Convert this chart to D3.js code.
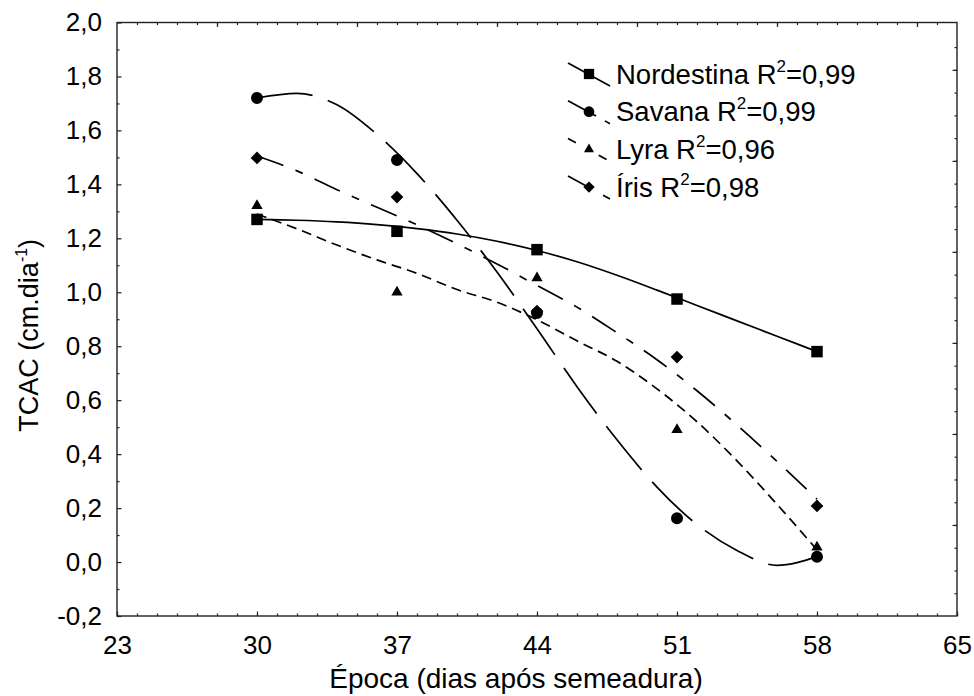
<!DOCTYPE html>
<html>
<head>
<meta charset="utf-8">
<script src="https://cdn.jsdelivr.net/npm/d3@7"></script>
<style>
  body { margin: 0; background: #fff; }
  svg { display: block; font-family: "Liberation Sans", Arial, sans-serif; }
</style>
</head>
<body>
<div id="chart"></div>
<script>
const width = 974;
const height = 696;
const margin = { top: 22.5, right: 17, bottom: 80, left: 117 };

// observed points (days after sowing, TCAC)
const days = [30, 37, 44, 51, 58];
const nordestina = [1.27, 1.226, 1.158, 0.975, 0.78];
const savana = [1.72, 1.49, 0.923, 0.162, 0.02];
const lyra = [1.321, 1.0, 1.053, 0.49, 0.055];
const iris = [1.498, 1.353, 0.93, 0.76, 0.208];

// fitted curves at regular days
const fitDays = [30, 32, 34, 36, 38, 40, 42, 44, 46, 48, 50, 52, 54, 56, 58];
const nordestinaFit = [1.27, 1.267, 1.261, 1.251, 1.236, 1.216, 1.189, 1.155, 1.113, 1.063, 1.008, 0.951, 0.894, 0.837, 0.78];
const savanaFit = [1.72, 1.737, 1.695, 1.585, 1.44, 1.267, 1.075, 0.865, 0.65, 0.453, 0.278, 0.139, 0.043, -0.012, 0.02];
const lyraFit = [1.29, 1.235, 1.175, 1.12, 1.07, 1.01, 0.963, 0.898, 0.82, 0.744, 0.642, 0.52, 0.375, 0.214, 0.045];
const irisFit = [1.505, 1.45, 1.38, 1.315, 1.25, 1.18, 1.105, 1.025, 0.945, 0.85, 0.75, 0.635, 0.508, 0.373, 0.233];

const seriesNames = ["Nordestina", "Savana", "Lyra", "Íris"];
const r2Values = ["0,99", "0,99", "0,96", "0,98"];

const xTicks = [23, 30, 37, 44, 51, 58, 65];
const yTicks = [-0.2, 0, 0.2, 0.4, 0.6, 0.8, 1.0, 1.2, 1.4, 1.6, 1.8, 2.0];

// line and marker styles per series
const styles = [
  { symbol: d3.symbolSquare, size: 132, rotate: 0, dash: null, legendDash: null },
  { symbol: d3.symbolCircle, size: 113, rotate: 0, dash: "56,16", legendDash: "32,10,8" },
  { symbol: d3.symbolTriangle, size: 55, rotate: 0, dash: "10,6", legendDash: "9,26,9" },
  { symbol: d3.symbolSquare, size: 81, rotate: 45, dash: "28,13,8,13", legendDash: "26,14,8" }
];

const series = seriesNames.map((name, i) => ({
  name,
  r2: r2Values[i],
  points: days.map((d, j) => ({ x: d, y: [nordestina, savana, lyra, iris][i][j] })),
  fit: fitDays.map((d, j) => ({ x: d, y: [nordestinaFit, savanaFit, lyraFit, irisFit][i][j] })),
  style: styles[i]
}));

const svg = d3.select("#chart")
  .append("svg")
  .attr("width", width)
  .attr("height", height);

// scales
const xScale = d3.scaleLinear()
  .domain([23, 65])
  .range([margin.left, width - margin.right]);

const yScale = d3.scaleLinear()
  .domain([-0.2, 2.0])
  .range([height - margin.bottom, margin.top]);

// the right frame carries its own tick spacing in the original
const rightScale = d3.scaleLinear()
  .domain([0, 6.52])
  .range([height - margin.bottom, margin.top]);

const fmt = v => v.toFixed(1).replace(".", ",");

// clip for curves
svg.append("clipPath")
  .attr("id", "plot-clip")
  .append("rect")
  .attr("x", margin.left)
  .attr("y", margin.top)
  .attr("width", width - margin.left - margin.right)
  .attr("height", height - margin.top - margin.bottom);

const axesLayer = svg.append("g");
const curvesLayer = svg.append("g").attr("clip-path", "url(#plot-clip)");
const pointsLayer = svg.append("g");
const legendLayer = svg.append("g");

// bottom axis: major + minor ticks
axesLayer.append("g")
  .attr("transform", `translate(0, ${height - margin.bottom})`)
  .call(d3.axisBottom(xScale).tickValues(d3.range(23, 66, 1)).tickSize(-2.5).tickFormat(""))
  .call(g => g.select(".domain").remove());

axesLayer.append("g")
  .attr("transform", `translate(0, ${height - margin.bottom})`)
  .call(d3.axisBottom(xScale).tickValues(xTicks).tickSize(-4.5).tickPadding(19.5).tickFormat(d3.format("d")))
  .call(g => g.select(".domain").remove())
  .selectAll("text")
  .attr("font-family", "Liberation Sans, Arial, sans-serif")
  .attr("font-size", "26px")
  .attr("fill", "#000");

// top axis (ticks only)
axesLayer.append("g")
  .attr("transform", `translate(0, ${margin.top})`)
  .call(d3.axisTop(xScale).tickValues(d3.range(24, 65, 1)).tickSize(-2.5).tickFormat(""))
  .call(g => g.select(".domain").remove());

axesLayer.append("g")
  .attr("transform", `translate(0, ${margin.top})`)
  .call(d3.axisTop(xScale).tickValues(d3.range(28, 64, 7)).tickSize(-4.5).tickFormat(""))
  .call(g => g.select(".domain").remove());

// left axis
axesLayer.append("g")
  .attr("transform", `translate(${margin.left}, 0)`)
  .call(d3.axisLeft(yScale).tickValues(d3.range(-0.1, 2.0, 0.2)).tickSize(-2.5).tickFormat(""))
  .call(g => g.select(".domain").remove());

axesLayer.append("g")
  .attr("transform", `translate(${margin.left}, 0)`)
  .call(d3.axisLeft(yScale).tickValues(yTicks).tickSize(-4.5).tickPadding(15).tickFormat(fmt))
  .call(g => g.select(".domain").remove())
  .selectAll("text")
  .attr("font-family", "Liberation Sans, Arial, sans-serif")
  .attr("font-size", "26px")
  .attr("fill", "#000");

// right axis (ticks only)
axesLayer.append("g")
  .attr("transform", `translate(${width - margin.right}, 0)`)
  .call(d3.axisRight(rightScale).tickValues(d3.range(0.25, 6.5, 0.25)).tickSize(-2.5).tickFormat(""))
  .call(g => g.select(".domain").remove());

axesLayer.append("g")
  .attr("transform", `translate(${width - margin.right}, 0)`)
  .call(d3.axisRight(rightScale).tickValues(d3.range(1, 7, 1)).tickSize(-4.5).tickFormat(""))
  .call(g => g.select(".domain").remove());

axesLayer.selectAll(".tick line").attr("stroke", "#222").attr("stroke-width", 1.2);

// frame
axesLayer.append("rect")
  .attr("x", margin.left)
  .attr("y", margin.top)
  .attr("width", width - margin.left - margin.right)
  .attr("height", height - margin.top - margin.bottom)
  .attr("fill", "none")
  .attr("stroke", "#222")
  .attr("stroke-width", 1.4);

// axis titles
axesLayer.append("text")
  .attr("x", 516)
  .attr("y", 688)
  .attr("text-anchor", "middle")
  .attr("font-size", "28px")
  .text("Época (dias após semeadura)");

const yTitle = axesLayer.append("text")
  .attr("transform", `translate(38, ${(margin.top + height - margin.bottom) / 2 + 16}) rotate(-90)`)
  .attr("text-anchor", "middle")
  .attr("font-size", "27px");
yTitle.append("tspan").text("TCAC (cm.dia");
yTitle.append("tspan").attr("font-size", "16px").attr("dy", "-11").text("-1");
yTitle.append("tspan").attr("dy", "11").text(")");

// fitted curves
const line = d3.line()
  .x(d => xScale(d.x))
  .y(d => yScale(d.y))
  .curve(d3.curveMonotoneX);

curvesLayer.selectAll("path")
  .data(series)
  .join("path")
  .attr("d", d => line(d.fit))
  .attr("fill", "none")
  .attr("stroke", "#000")
  .attr("stroke-width", 1.7)
  .attr("stroke-dasharray", d => d.style.dash);

// markers
pointsLayer.selectAll("g")
  .data(series)
  .join("g")
  .each(function (s) {
    d3.select(this).selectAll("path")
      .data(s.points)
      .join("path")
      .attr("transform", d => `translate(${xScale(d.x)}, ${yScale(d.y)}) rotate(${s.style.rotate})`)
      .attr("d", d3.symbol().type(s.style.symbol).size(s.style.size))
      .attr("fill", "#000");
  });

// legend
const legendX = 589;
const legendY0 = 74;
const legendStep = 37.7;

const legendItems = legendLayer.selectAll("g")
  .data(series)
  .join("g")
  .attr("transform", (d, i) => `translate(${legendX}, ${legendY0 + i * legendStep})`);

legendItems.append("line")
  .attr("x1", -21)
  .attr("y1", -11)
  .attr("x2", 21)
  .attr("y2", 12)
  .attr("stroke", "#000")
  .attr("stroke-width", 1.7)
  .attr("stroke-dasharray", d => d.style.legendDash);

legendItems.append("path")
  .attr("transform", d => `rotate(${d.style.rotate})`)
  .attr("d", d => d3.symbol().type(d.style.symbol).size(d.style.size * 0.8)())
  .attr("fill", "#000");

const legendText = legendItems.append("text")
  .attr("x", 27)
  .attr("y", 9.5)
  .attr("font-size", "27.5px");
legendText.append("tspan").text(d => `${d.name} R`);
legendText.append("tspan").attr("font-size", "17px").attr("dy", "-12").text("2");
legendText.append("tspan").attr("dy", "12").text(d => `=${d.r2}`);
</script>
</body>
</html>
